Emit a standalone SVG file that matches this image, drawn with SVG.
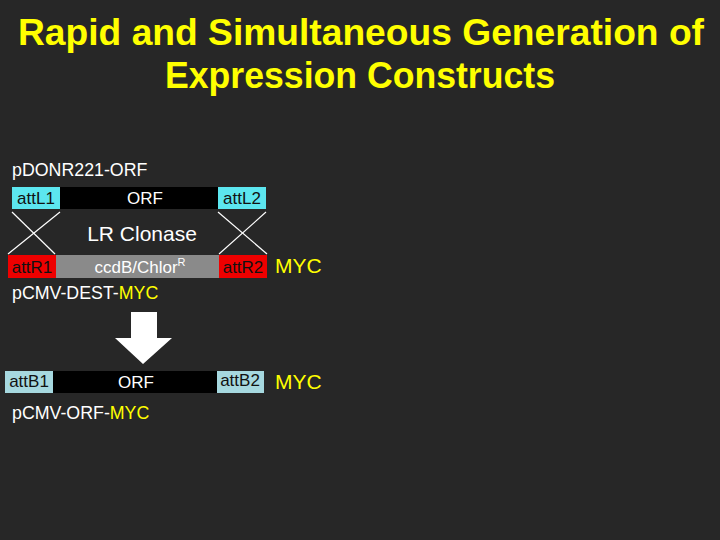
<svg xmlns="http://www.w3.org/2000/svg" width="720" height="540" viewBox="0 0 720 540">
<style>
.t{font-family:"Liberation Sans",Arial,sans-serif;font-size:17px;fill:#ffffff}
.d{fill:#111111}
.y{fill:#ffff00}
.c{text-anchor:middle}
.big{font-size:21px}
.lab{font-size:17.8px}
.title{font-family:"Liberation Sans",Arial,sans-serif;font-weight:bold;font-size:37px;fill:#ffff00;text-anchor:middle}
.x{stroke:#ffffff;stroke-width:1.2}
</style>
<rect width="720" height="540" fill="#272727"/>
<g id="title">
<text class="title" x="361" y="45" textLength="686" lengthAdjust="spacingAndGlyphs">Rapid and Simultaneous Generation of</text>
<text class="title" x="360" y="88" textLength="390" lengthAdjust="spacingAndGlyphs">Expression Constructs</text>
</g>
<g id="pdonr">
<text class="t lab" x="12" y="176">pDONR221-ORF</text>
<rect x="12" y="187" width="48" height="22" fill="#5ce6ef"/>
<text class="t d c" x="36" y="204">attL1</text>
<rect x="60" y="187" width="158" height="22" fill="#000000"/>
<text class="t c" x="145" y="204">ORF</text>
<rect x="218" y="187" width="48" height="22" fill="#5ce6ef"/>
<text class="t d c" x="242" y="204">attL2</text>
</g>
<g id="connectors">
<line class="x" x1="12" y1="212" x2="55" y2="254"/>
<line class="x" x1="60" y1="212" x2="8" y2="254"/>
<line class="x" x1="218" y1="212" x2="267" y2="254"/>
<line class="x" x1="266" y1="212" x2="219" y2="254"/>
</g>
<g id="lrclonase">
<text class="t c big" x="142" y="241">LR Clonase</text>
</g>
<g id="pdest">
<rect x="8" y="255" width="48" height="23" fill="#ee0000"/>
<text class="t d c" x="32" y="273">attR1</text>
<rect x="56" y="255" width="163" height="23" fill="#8a8a8a"/>
<text class="t c" x="140" y="273">ccdB/Chlor<tspan style="font-size:11px" dy="-7">R</tspan></text>
<rect x="219" y="255" width="48" height="23" fill="#ee0000"/>
<text class="t d c" x="243" y="273">attR2</text>
<text class="t y big" x="275" y="273">MYC</text>
<text class="t lab" x="12" y="299">pCMV-DEST-<tspan class="y">MYC</tspan></text>
</g>
<g id="arrow">
<path d="M131,312 H157 V338 H172 L143,364 L115,338 H131 Z" fill="#ffffff"/>
</g>
<g id="product">
<rect x="5" y="371" width="48" height="22" fill="#a6d8df"/>
<text class="t d c" x="29" y="387">attB1</text>
<rect x="53" y="371" width="164" height="22" fill="#000000"/>
<text class="t c" x="136" y="388">ORF</text>
<rect x="217" y="371" width="47" height="22" fill="#a6d8df"/>
<text class="t d c" x="240" y="386">attB2</text>
<text class="t y big" x="275" y="389">MYC</text>
<text class="t lab" x="12" y="419">pCMV-ORF-<tspan class="y">MYC</tspan></text>
</g>
</svg>
